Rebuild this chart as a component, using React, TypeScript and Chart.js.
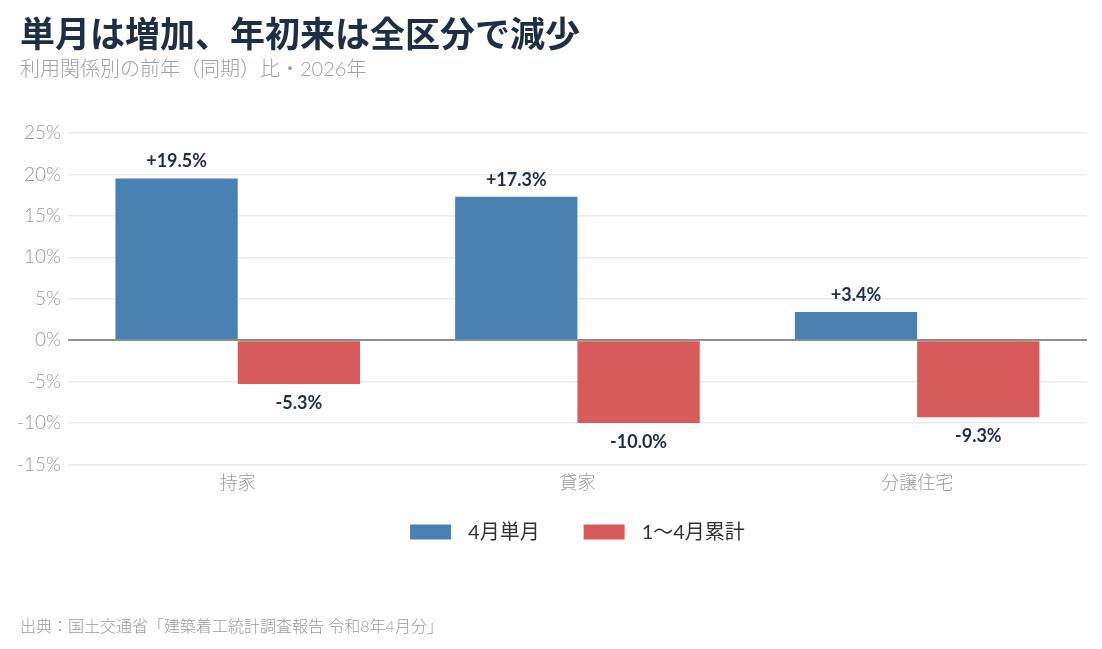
import React, { useEffect, useRef } from "react";
import { Chart, registerables } from "chart.js";

Chart.register(...registerables);

const categories = ["持家", "貸家", "分譲住宅"];
const seriesNames = ["4月単月", "1〜4月累計"];
const monthlyValues = [19.5, 17.3, 3.4];
const cumulativeValues = [-5.3, -10.0, -9.3];
const yMin = -15;
const yMax = 25;
const yStep = 5;

const titleText = "単月は増加、年初来は全区分で減少";
const subtitleText = "利用関係別の前年（同期）比・2026年";
const footerText = "出典：国土交通省「建築着工統計調査報告 令和8年4月分」";

const FONT = "Lato, 'Noto Sans CJK JP', sans-serif";
const BLUE = "#4a81b3";
const RED = "#d75b5b";
const DARK = "#1e2f45";

const fmt = (v: number) => (v > 0 ? "+" : "") + v.toFixed(1) + "%";

const valueLabels = {
  id: "valueLabels",
  afterDatasetsDraw(chart: any) {
    const ctx = chart.ctx;
    ctx.save();
    ctx.font = `bold 18px ${FONT}`;
    ctx.fillStyle = DARK;
    ctx.textAlign = "center";
    ctx.textBaseline = "middle";
    chart.data.datasets.forEach((ds: any, di: number) => {
      const meta = chart.getDatasetMeta(di);
      meta.data.forEach((bar: any, i: number) => {
        const v = ds.data[i] as number;
        const y = v >= 0 ? bar.y - 17 : bar.y + 19;
        ctx.fillText(fmt(v), bar.x, y);
      });
    });
    ctx.restore();
  },
};

const customLegend = {
  id: "customLegend",
  afterDraw(chart: any) {
    const ctx = chart.ctx;
    const area = chart.chartArea;
    const boxW = 41;
    const boxH = 15;
    const gapText = 17;
    const gapItem = 44;
    ctx.save();
    ctx.font = `20px ${FONT}`;
    const items = chart.data.datasets.map((ds: any) => ({
      label: ds.label as string,
      color: ds.backgroundColor as string,
      w: ctx.measureText(ds.label).width,
    }));
    const total =
      items.reduce((s: number, it: any) => s + boxW + gapText + it.w, 0) + gapItem * (items.length - 1);
    let x = (area.left + area.right) / 2 - total / 2;
    const cy = 532;
    ctx.textBaseline = "middle";
    ctx.textAlign = "left";
    items.forEach((it: any) => {
      ctx.fillStyle = it.color;
      ctx.fillRect(x, cy - boxH / 2, boxW, boxH);
      ctx.fillStyle = "#333333";
      ctx.fillText(it.label, x + boxW + gapText, cy + 1);
      x += boxW + gapText + it.w + gapItem;
    });
    ctx.restore();
  },
};

export default function App() {
  const ref = useRef<HTMLCanvasElement | null>(null);

  useEffect(() => {
    document.body.style.margin = "0";
    if (!ref.current) return;
    const chart = new Chart(ref.current, {
      type: "bar",
      data: {
        labels: categories,
        datasets: [
          { label: seriesNames[0], data: monthlyValues, backgroundColor: BLUE, borderWidth: 0 },
          { label: seriesNames[1], data: cumulativeValues, backgroundColor: RED, borderWidth: 0 },
        ],
      },
      options: {
        animation: false,
        responsive: false,
        devicePixelRatio: 1,
        layout: { padding: { top: 133, left: 10, right: 15, bottom: 147 } },
        datasets: { bar: { categoryPercentage: 0.72, barPercentage: 1.0 } },
        scales: {
          x: {
            grid: { display: false, drawTicks: false },
            border: { display: false },
            ticks: { color: "#9a9a9a", font: { family: FONT, size: 18, weight: "300" }, padding: 8 },
          },
          y: {
            min: yMin,
            max: yMax,
            grid: {
              drawTicks: false,
              color: (c: any) => (c.tick && c.tick.value === 0 ? "#8a9097" : "#ebebeb"),
              lineWidth: (c: any) => (c.tick && c.tick.value === 0 ? 2 : 1.5),
            },
            border: { display: false },
            ticks: {
              stepSize: yStep,
              color: "#9a9a9a",
              font: { family: FONT, size: 19, weight: "300" },
              padding: 7,
              callback: (v: any) => v + "%",
            },
          },
        },
        plugins: {
          legend: { display: false },
          tooltip: { enabled: false },
        },
      },
      plugins: [valueLabels, customLegend],
    });
    return () => chart.destroy();
  }, []);

  return (
    <div style={{ position: "relative", width: 1102, height: 649, background: "#fff", overflow: "hidden" }}>
      <canvas ref={ref} width={1102} height={649} style={{ position: "absolute", left: 0, top: 0 }} />
      <div
        style={{
          position: "absolute",
          left: 20,
          top: 12,
          fontFamily: FONT,
          fontWeight: 700,
          fontSize: 35,
          color: DARK,
          lineHeight: "42px",
          whiteSpace: "nowrap",
        }}
      >
        {titleText}
      </div>
      <div
        style={{
          position: "absolute",
          left: 20,
          top: 56,
          fontFamily: FONT,
          fontWeight: 300,
          fontSize: 20,
          color: "#a0a0a0",
          lineHeight: "24px",
          whiteSpace: "nowrap",
        }}
      >
        {subtitleText}
      </div>
      <div
        style={{
          position: "absolute",
          left: 20,
          top: 616,
          fontFamily: FONT,
          fontWeight: 300,
          fontSize: 16,
          color: "#9a9a9a",
          lineHeight: "20px",
          whiteSpace: "nowrap",
        }}
      >
        {footerText}
      </div>
    </div>
  );
}
